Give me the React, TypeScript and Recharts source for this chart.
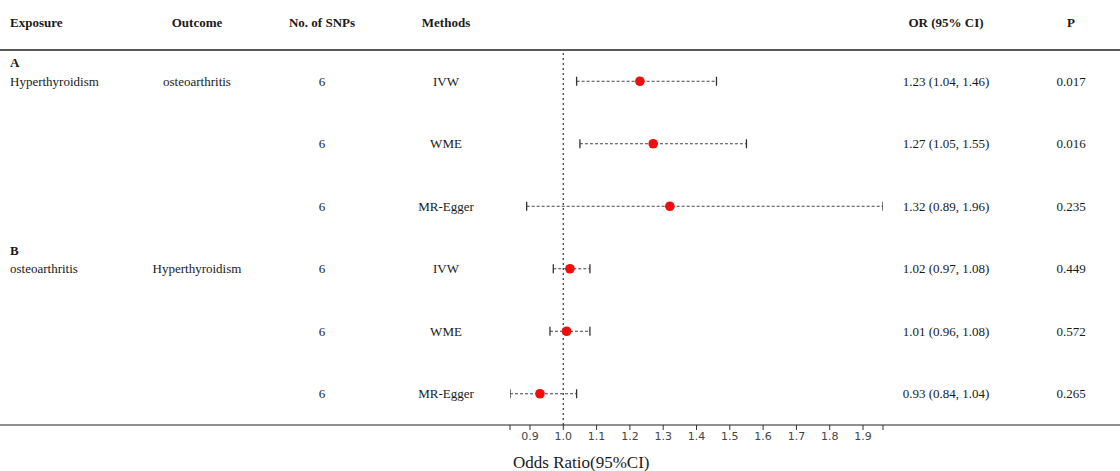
import React from 'react';
import { ScatterChart, Scatter, XAxis, YAxis, ReferenceLine } from 'recharts';

const exposures = ['Hyperthyroidism', '', '', 'osteoarthritis', '', ''];
const outcomes = ['osteoarthritis', '', '', 'Hyperthyroidism', '', ''];
const snps = [6, 6, 6, 6, 6, 6];
const methods = ['IVW', 'WME', 'MR-Egger', 'IVW', 'WME', 'MR-Egger'];
const orValues = [1.23, 1.27, 1.32, 1.02, 1.01, 0.93];
const lowerCI = [1.04, 1.05, 0.89, 0.97, 0.96, 0.84];
const upperCI = [1.46, 1.55, 1.96, 1.08, 1.08, 1.04];
const pValues = ['0.017', '0.016', '0.235', '0.449', '0.572', '0.265'];
const groupLabels = ['A', 'B'];
const groupRows = [0, 3];
const xTicks = [0.84, 0.9, 1.0, 1.1, 1.2, 1.3, 1.4, 1.5, 1.6, 1.7, 1.8, 1.9, 1.96];
const headers = ['Exposure', 'Outcome', 'No. of SNPs', 'Methods', 'OR (95% CI)', 'P'];

const W = 1120;
const H = 471;
const SERIF = '"Liberation Serif", "Times New Roman", serif';
const TEXT = '#1a1a1a';
const FS = 13;

const rowY = (i: number) => i + 0.5;
const groupY = (g: number) => groupRows[g] + 0.2;

const points = orValues.map((v, i) => ({ x: v, y: rowY(i) }));
const whiskers = orValues.map((_, i) => [
  { x: lowerCI[i], y: rowY(i) },
  { x: upperCI[i], y: rowY(i) },
]);

const yTicks = [...groupRows.map((_, g) => groupY(g)), ...orValues.map((_, i) => rowY(i))];

const colX = { exposure: 10, outcome: 197, snps: 322, methods: 446, or: 946, p: 1071 };

const Cell = ({ x, y, anchor, bold, children }: any) => (
  <text
    x={x}
    y={y}
    dy="0.35em"
    textAnchor={anchor || 'start'}
    fill={TEXT}
    fontFamily={SERIF}
    fontSize={FS}
    fontWeight={bold ? 'bold' : 'normal'}
  >
    {children}
  </text>
);

const RowTick = (props: any) => {
  const { y, payload } = props;
  const v = payload.value;
  const gi = groupRows.findIndex((_, g) => Math.abs(groupY(g) - v) < 1e-6);
  if (gi >= 0) {
    return <Cell x={colX.exposure} y={y} bold>{groupLabels[gi]}</Cell>;
  }
  const i = Math.round(v - 0.5);
  return (
    <g>
      <Cell x={colX.exposure} y={y}>{exposures[i]}</Cell>
      <Cell x={colX.outcome} y={y} anchor="middle">{outcomes[i]}</Cell>
      <Cell x={colX.snps} y={y} anchor="middle">{String(snps[i])}</Cell>
      <Cell x={colX.methods} y={y} anchor="middle">{methods[i]}</Cell>
      <Cell x={colX.or} y={y} anchor="middle">
        {`${orValues[i].toFixed(2)} (${lowerCI[i].toFixed(2)}, ${upperCI[i].toFixed(2)})`}
      </Cell>
      <Cell x={colX.p} y={y} anchor="middle">{pValues[i]}</Cell>
    </g>
  );
};

const Cap = (props: any) => {
  const { cx, cy } = props;
  return <line x1={cx} x2={cx} y1={cy - 4.5} y2={cy + 4.5} stroke="#333" strokeWidth={1.3} />;
};

const Dot = (props: any) => {
  const { cx, cy } = props;
  return <circle cx={cx} cy={cy} r={4.8} fill="#f00d0d" />;
};

const headerX = [colX.exposure, colX.outcome, colX.snps, colX.methods, colX.or, colX.p];

export default function App() {
  return (
    <div style={{ position: 'absolute', left: 0, top: 0, width: W, height: H, background: '#fff' }}>
      <ScatterChart width={W} height={H} margin={{ top: 50, right: 237, bottom: 0, left: 0 }}>
        <XAxis
          type="number"
          dataKey="x"
          domain={[0.84, 1.96]}
          ticks={xTicks}
          interval={0}
          allowDataOverflow
          height={46}
          axisLine={false}
          tickSize={5}
          tickLine={{ stroke: '#333' }}
          tick={{ fontSize: 11, fill: '#444', fontFamily: '"DejaVu Sans", sans-serif' }}
          tickFormatter={(v: number) => (v === 0.84 || v === 1.96 ? '' : v.toFixed(1))}
          label={{
            value: 'Odds Ratio(95%CI)',
            position: 'insideBottomLeft',
            offset: 3,
            style: { fontFamily: SERIF, fontSize: 17, fill: TEXT },
          }}
        />
        <YAxis
          type="number"
          dataKey="y"
          domain={[0, 6]}
          reversed
          width={510}
          ticks={yTicks}
          interval={0}
          axisLine={false}
          tickLine={false}
          tick={<RowTick />}
        />
        <ReferenceLine x={1} stroke="#444" strokeDasharray="2 3" strokeWidth={1.3} />
        {whiskers.map((d, i) => (
          <Scatter
            key={`w${i}`}
            data={d}
            line={{ stroke: '#444', strokeDasharray: '3 2', strokeWidth: 1 }}
            lineType="joint"
            shape={<Cap />}
            isAnimationActive={false}
          />
        ))}
        <Scatter data={points} shape={<Dot />} isAnimationActive={false} />
      </ScatterChart>
      <svg width={W} height={H} style={{ position: 'absolute', left: 0, top: 0, pointerEvents: 'none' }}>
        {headers.map((h, i) => (
          <Cell key={h} x={headerX[i]} y={22} anchor={i === 0 ? 'start' : 'middle'} bold>
            {h}
          </Cell>
        ))}
        <line x1={0} x2={W} y1={50} y2={50} stroke="#222" strokeWidth={1.5} />
        <line x1={0} x2={W} y1={425} y2={425} stroke="#222" strokeWidth={1.2} />
      </svg>
    </div>
  );
}
